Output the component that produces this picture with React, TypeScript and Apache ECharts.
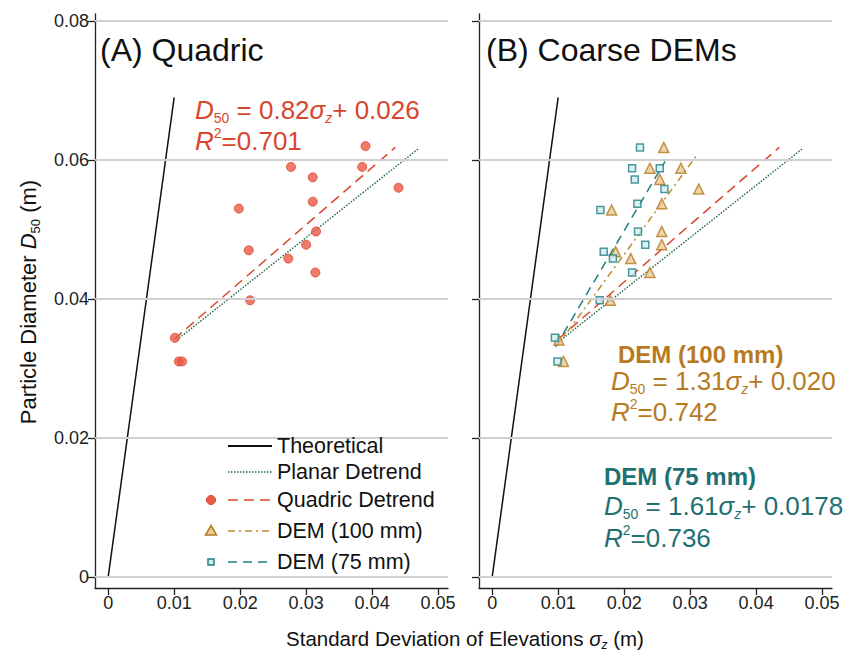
import React, { useEffect, useRef } from "react";
import * as echarts from "echarts";

const FONT = '"Liberation Sans", Arial, Helvetica, sans-serif';

// Tick values
const xTicks = [0, 0.01, 0.02, 0.03, 0.04, 0.05];
const yTicks = [0, 0.02, 0.04, 0.06, 0.08];

// Panel A: quadric detrend measurements [sigma_z, D50]
const quadricPoints = [
  [0.039, 0.062], [0.0277, 0.059], [0.0385, 0.059], [0.031, 0.0575], [0.044, 0.056],
  [0.031, 0.054], [0.0198, 0.053], [0.0315, 0.0497], [0.0213, 0.047], [0.030, 0.0478],
  [0.0273, 0.0458], [0.0314, 0.0438], [0.0215, 0.0398], [0.0101, 0.0344],
  [0.0107, 0.031], [0.0112, 0.031],
];

// Panel B: coarse DEMs
const dem100Points = [
  [0.026, 0.0618], [0.0239, 0.0588], [0.0286, 0.0588], [0.0254, 0.0572], [0.0313, 0.0558],
  [0.0257, 0.0537], [0.0181, 0.0528], [0.0257, 0.0497], [0.0257, 0.0478], [0.0187, 0.0468],
  [0.021, 0.0458], [0.0239, 0.0438], [0.0179, 0.0398], [0.0101, 0.0341], [0.0108, 0.031],
];
const dem75Points = [
  [0.0224, 0.0618], [0.0212, 0.0588], [0.0254, 0.0588], [0.0216, 0.0572], [0.0261, 0.0558],
  [0.022, 0.0537], [0.0164, 0.0528], [0.0221, 0.0497], [0.0232, 0.0478], [0.0169, 0.0468],
  [0.0183, 0.0458], [0.0212, 0.0438], [0.0163, 0.0398], [0.0095, 0.0344], [0.0099, 0.031],
];

// Lines (endpoints)
const theoreticalLine = [[0, 0], [0.01, 0.069]];
const planarLine = [[0.0104, 0.0341], [0.047, 0.0616]];
const quadricLine = [[0.01, 0.0342], [0.0435, 0.0618]];
const dem100Line = [[0.0099, 0.0333], [0.0311, 0.0608]];
const dem75Line = [[0.0096, 0.0331], [0.0262, 0.0598]];

const C_RED = "#D8462E";
const C_RED_FILL = "#EC5A45";
const C_GREEN = "#2C6B50";
const C_GOLD = "#B87A1E";
const C_GOLD_LINE = "#C08A30";
const C_GOLD_FILL = "#E9CB9C";
const C_TEAL = "#1F7F84";
const C_TEAL_TEXT = "#1E7073";
const C_TEAL_FILL = "#D2ECEC";

function lineSeries(name: string, data: number[][], idx: number, color: string, type: any, extra: any = {}) {
  return {
    name,
    type: "line",
    xAxisIndex: idx,
    yAxisIndex: idx,
    data,
    symbol: "none",
    showSymbol: false,
    lineStyle: { color, width: 1.5, type },
    z: 2,
    ...extra,
  };
}

function gridLines(idx: number) {
  return {
    name: "Theoretical",
    type: "line",
    xAxisIndex: idx,
    yAxisIndex: idx,
    data: theoreticalLine,
    symbol: "none",
    showSymbol: false,
    lineStyle: { color: "#111", width: 1.5 },
    z: 1,
    markLine: {
      silent: true,
      symbol: "none",
      label: { show: false },
      lineStyle: { color: "#d0d0d0", width: 2, type: "solid" },
      data: yTicks.map((v) => ({ yAxis: v })),
    },
  };
}

const fmt = (v: number) => (v === 0 ? "0" : v.toFixed(2));

function makeX(idx: number) {
  return {
    type: "value",
    gridIndex: idx,
    min: -0.002,
    max: 0.0515,
    splitLine: { show: false },
    axisLine: { show: true, onZero: false, lineStyle: { color: "#222", width: 1.3 } },
    axisTick: { show: true, length: 7, customValues: xTicks, lineStyle: { color: "#222", width: 1.3 } },
    axisLabel: { customValues: xTicks, formatter: fmt, color: "#222", fontSize: 18, fontFamily: FONT, margin: 6 },
  };
}
function makeY(idx: number, labels: boolean) {
  return {
    type: "value",
    gridIndex: idx,
    min: -0.0016,
    max: 0.081,
    splitLine: { show: false },
    axisLine: { show: true, onZero: false, lineStyle: { color: "#222", width: 1.3 } },
    axisTick: { show: true, length: 7, customValues: yTicks, lineStyle: { color: "#222", width: 1.3 } },
    axisLabel: { show: labels, customValues: yTicks, formatter: fmt, color: "#222", fontSize: 18, fontFamily: FONT, margin: 6 },
  };
}

function eqRich(size: number, color: string) {
  return {
    n: { fontSize: size, fontFamily: FONT, fill: color, color, lineHeight: 30, verticalAlign: "middle" },
    i: { fontSize: size, fontFamily: FONT, fontStyle: "italic", fill: color, color, lineHeight: 30, verticalAlign: "middle" },
    s: { fontSize: 14, fontFamily: FONT, fill: color, color, lineHeight: 14, verticalAlign: "bottom" },
    si: { fontSize: 14, fontFamily: FONT, fontStyle: "italic", fill: color, color, lineHeight: 14, verticalAlign: "bottom" },
    p: { fontSize: 14, fontFamily: FONT, fill: color, color, lineHeight: 14, verticalAlign: "top" },
  };
}

function textEl(x: number, y: number, text: string, size: number, color: string, extra: any = {}) {
  return {
    type: "text",
    x,
    y,
    style: { text, fontSize: size, fontFamily: FONT, fill: color, verticalAlign: "middle", ...extra },
    z: 10,
  };
}

function richEl(x: number, y: number, text: string, size: number, color: string) {
  return {
    type: "text",
    x,
    y,
    style: { text, rich: eqRich(size, color), verticalAlign: "middle", fill: color },
    z: 10,
  };
}

export default function App() {
  const ref = useRef<HTMLDivElement>(null);
  useEffect(() => {
    if (!ref.current) return;
    const chart = echarts.init(ref.current, undefined, { renderer: "svg" });

    const legendX1 = 228;
    const legendX2 = 272;
    const legendTextX = 277;
    const ly = [446, 472, 500, 531, 562];

    const graphic: any[] = [
      textEl(100, 50, "(A) Quadric", 32, "#111"),
      textEl(486, 50, "(B) Coarse DEMs", 32, "#111"),
      richEl(195, 110, "{i|D}{s|50}{n| = 0.82}{i|σ}{si|z}{n|+ 0.026}", 26, C_RED),
      richEl(195, 141, "{i|R}{p|2}{n|=0.701}", 26, C_RED),
      textEl(618, 354, "DEM (100 mm)", 24, C_GOLD, { fontWeight: "bold" }),
      richEl(611, 381, "{i|D}{s|50}{n| = 1.31}{i|σ}{si|z}{n|+ 0.020}", 26, C_GOLD),
      richEl(611, 412, "{i|R}{p|2}{n|=0.742}", 26, C_GOLD),
      textEl(604, 476, "DEM (75 mm)", 24, C_TEAL_TEXT, { fontWeight: "bold" }),
      richEl(604, 506, "{i|D}{s|50}{n| = 1.61}{i|σ}{si|z}{n|+ 0.0178}", 26, C_TEAL_TEXT),
      richEl(604, 538, "{i|R}{p|2}{n|=0.736}", 26, C_TEAL_TEXT),
      // axis titles
      {
        type: "text",
        x: 28,
        y: 302,
        rotation: Math.PI / 2,
        style: {
          text: "{n|Particle Diameter }{i|D}{s|50}{n| (m)}",
          align: "center",
          verticalAlign: "middle",
          rich: {
            n: { fontSize: 22, fontFamily: FONT, fill: "#111", color: "#111", lineHeight: 28, verticalAlign: "middle" },
            i: { fontSize: 22, fontFamily: FONT, fontStyle: "italic", fill: "#111", color: "#111", lineHeight: 28, verticalAlign: "middle" },
            s: { fontSize: 13, fontFamily: FONT, fill: "#111", color: "#111", lineHeight: 13, verticalAlign: "bottom" },
          },
        },
      },
      {
        type: "text",
        x: 465,
        y: 638,
        style: {
          text: "{n|Standard Deviation of Elevations }{i|σ}{s|z}{n| (m)}",
          align: "center",
          verticalAlign: "middle",
          rich: {
            n: { fontSize: 20.5, fontFamily: FONT, fill: "#111", color: "#111", lineHeight: 26, verticalAlign: "middle" },
            i: { fontSize: 20.5, fontFamily: FONT, fontStyle: "italic", fill: "#111", color: "#111", lineHeight: 26, verticalAlign: "middle" },
            s: { fontSize: 12, fontFamily: FONT, fontStyle: "italic", fill: "#111", color: "#111", lineHeight: 12, verticalAlign: "bottom" },
          },
        },
      },
      // legend
      { type: "line", shape: { x1: legendX1, y1: ly[0], x2: legendX2, y2: ly[0] }, style: { stroke: "#111", lineWidth: 1.8 }, z: 10 },
      { type: "line", shape: { x1: legendX1, y1: ly[1], x2: legendX2, y2: ly[1] }, style: { stroke: C_GREEN, lineWidth: 1.5, lineDash: [1.5, 1.5] }, z: 10 },
      { type: "line", shape: { x1: legendX1, y1: ly[2], x2: legendX2, y2: ly[2] }, style: { stroke: C_RED, lineWidth: 1.5, lineDash: [10, 6] }, z: 10 },
      { type: "line", shape: { x1: legendX1, y1: ly[3], x2: legendX2, y2: ly[3] }, style: { stroke: C_GOLD_LINE, lineWidth: 1.5, lineDash: [7, 4, 2, 4] }, z: 10 },
      { type: "line", shape: { x1: legendX1, y1: ly[4], x2: legendX2, y2: ly[4] }, style: { stroke: C_TEAL, lineWidth: 1.5, lineDash: [9, 6] }, z: 10 },
      { type: "circle", shape: { cx: 211, cy: ly[2], r: 4.5 }, style: { fill: C_RED_FILL, stroke: C_RED, lineWidth: 1 }, z: 10 },
      { type: "polygon", shape: { points: [[211, ly[3] - 5.5], [216.5, ly[3] + 4], [205.5, ly[3] + 4]] }, style: { fill: C_GOLD_FILL, stroke: C_GOLD, lineWidth: 1.5 }, z: 10 },
      { type: "rect", shape: { x: 208, y: ly[4] - 3, width: 6, height: 6 }, style: { fill: C_TEAL_FILL, stroke: C_TEAL, lineWidth: 1.5 }, z: 10 },
      textEl(legendTextX, ly[0], "Theoretical", 21.5, "#111"),
      textEl(legendTextX, ly[1], "Planar Detrend", 21.5, "#111"),
      textEl(legendTextX, ly[2], "Quadric Detrend", 21.5, "#111"),
      textEl(legendTextX, ly[3], "DEM (100 mm)", 21.5, "#111"),
      textEl(legendTextX, ly[4], "DEM (75 mm)", 21.5, "#111"),
    ];

    const option: any = {
      animation: false,
      backgroundColor: "#ffffff",
      textStyle: { fontFamily: FONT },
      grid: [
        { left: 95, top: 14, width: 353, height: 574, containLabel: false, outerBoundsMode: "none" },
        { left: 479, top: 14, width: 353, height: 574, containLabel: false, outerBoundsMode: "none" },
      ],
      xAxis: [makeX(0), makeX(1)],
      yAxis: [makeY(0, true), makeY(1, false)],
      series: [
        gridLines(0),
        gridLines(1),
        lineSeries("Planar Detrend", planarLine, 0, C_GREEN, [1.5, 1.5]),
        lineSeries("Quadric Detrend", quadricLine, 0, C_RED, [10, 6]),
        {
          name: "Quadric",
          type: "scatter",
          xAxisIndex: 0,
          yAxisIndex: 0,
          data: quadricPoints,
          symbol: "circle",
          symbolSize: 9,
          itemStyle: { color: C_RED_FILL, borderColor: C_RED, borderWidth: 1 },
          z: 3,
        },
        lineSeries("Planar Detrend B", planarLine, 1, C_GREEN, [1.5, 1.5]),
        lineSeries("Quadric Detrend B", quadricLine, 1, C_RED, [10, 6]),
        lineSeries("DEM (100 mm) fit", dem100Line, 1, C_GOLD_LINE, [7, 4, 2, 4]),
        lineSeries("DEM (75 mm) fit", dem75Line, 1, C_TEAL, [9, 6]),
        {
          name: "DEM (100 mm)",
          type: "scatter",
          xAxisIndex: 1,
          yAxisIndex: 1,
          data: dem100Points,
          symbol: "triangle",
          symbolSize: 10,
          itemStyle: { color: C_GOLD_FILL, borderColor: C_GOLD, borderWidth: 1.5 },
          z: 3,
        },
        {
          name: "DEM (75 mm)",
          type: "scatter",
          xAxisIndex: 1,
          yAxisIndex: 1,
          data: dem75Points,
          symbol: "rect",
          symbolSize: 7,
          itemStyle: { color: C_TEAL_FILL, borderColor: C_TEAL, borderWidth: 1.5 },
          z: 3,
        },
      ],
      graphic,
    };
    chart.setOption(option);
    return () => chart.dispose();
  }, []);
  return (
    <div
      ref={ref}
      style={{ position: "fixed", left: 0, top: 0, width: 846, height: 653, background: "#fff" }}
    />
  );
}
